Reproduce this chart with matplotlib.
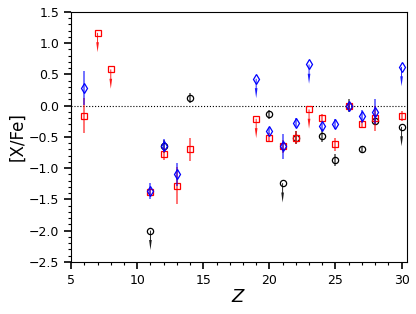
import matplotlib
matplotlib.use("Agg")
import matplotlib.pyplot as plt
from matplotlib.ticker import MultipleLocator

# Black circles (measurements)
blk_z = [12, 14, 20, 22, 24, 25, 26, 27, 28]
blk_v = [-0.65, 0.12, -0.14, -0.51, -0.48, -0.87, 0.0, -0.70, -0.25]
blk_e = [0.10, 0.08, 0.07, 0.10, 0.10, 0.10, 0.10, 0.04, 0.05]
# Black upper limits
blk_lz = [11, 21, 30]
blk_lv = [-2.0, -1.24, -0.34]

# Red squares
red_z = [6, 11, 12, 13, 14, 20, 21, 22, 24, 25, 26, 27, 28, 30]
red_v = [-0.16, -1.38, -0.77, -1.28, -0.70, -0.51, -0.65, -0.51, -0.19, -0.62, 0.0, -0.30, -0.20, -0.16]
red_e = [0.28, 0.06, 0.10, 0.30, 0.18, 0.07, 0.10, 0.10, 0.06, 0.10, 0.05, 0.06, 0.20, 0.08]
red_lz = [7, 8, 19, 23]
red_lv = [1.165, 0.58, -0.21, -0.06]

# Blue diamonds
blu_z = [6, 11, 12, 13, 20, 21, 22, 24, 25, 26, 27, 28]
blu_v = [0.28, -1.36, -0.64, -1.10, -0.40, -0.65, -0.27, -0.33, -0.29, 0.0, -0.17, -0.10]
blu_e = [0.27, 0.13, 0.10, 0.19, 0.05, 0.20, 0.07, 0.06, 0.08, 0.05, 0.10, 0.20]
blu_lz = [19, 23, 30]
blu_lv = [0.43, 0.66, 0.62]

arrow_len = 0.31

fig = plt.figure(figsize=(4.16, 3.14), dpi=100)
ax = fig.add_axes([0.171, 0.166, 0.807, 0.796])

ax.axhline(0, color='black', ls=':', lw=0.8, zorder=1)

def series(z, v, e, lz, lv, color, marker, ms, zo):
    ax.errorbar(z, v, yerr=e, fmt='none', ecolor=color, elinewidth=1.1,
                alpha=0.7, zorder=zo)
    for x, y in zip(lz, lv):
        ax.arrow(x, y, 0, -arrow_len, color=color, width=0.07,
                 head_width=0.2, head_length=0.16, length_includes_head=True,
                 alpha=0.9, zorder=zo, lw=0)
    ax.plot(list(z) + list(lz), list(v) + list(lv), ls='none', marker=marker,
            ms=ms, mfc='none', mec=color, mew=0.9, zorder=zo + 0.5)

series(blk_z, blk_v, blk_e, blk_lz, blk_lv, 'black', 'o', 4.5, 2)
series(red_z, red_v, red_e, red_lz, red_lv, 'red', 's', 5, 3)
series(blu_z, blu_v, blu_e, blu_lz, blu_lv, 'blue', 'd', 5, 4)

ax.set_xlim(5, 30.4)
ax.set_ylim(-2.5, 1.5)
ax.xaxis.set_major_locator(MultipleLocator(5))
ax.xaxis.set_minor_locator(MultipleLocator(1))
ax.yaxis.set_major_locator(MultipleLocator(0.5))
ax.yaxis.set_minor_locator(MultipleLocator(0.1))
ax.tick_params(which='major', length=5, width=1.2, labelsize=9, direction='out')
ax.tick_params(which='minor', length=2.5, width=0.8, direction='out')
ax.tick_params(top=False, right=False)
ax.set_xlabel('$Z$', fontsize=13, labelpad=1)
ax.set_ylabel('[X/Fe]', fontsize=12, labelpad=2)

fig.savefig('out.png', dpi=100)
